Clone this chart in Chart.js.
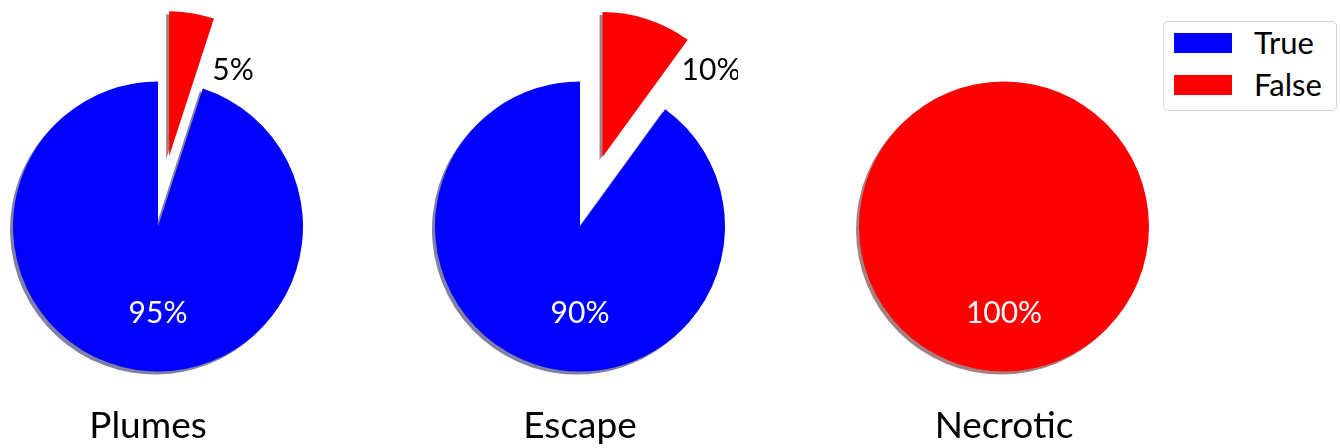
<!DOCTYPE html>
<html>
<head>
<meta charset="utf-8">
<script src="https://cdn.jsdelivr.net/npm/chart.js@4.4.0/dist/chart.umd.min.js"></script>
<style>
  html, body { margin: 0; padding: 0; background: #fff; }
  #wrap { position: relative; width: 1340px; height: 448px; overflow: hidden; font-family: Lato, sans-serif; }
  #wrap canvas { position: absolute; top: 0; }
  #legend { position: absolute; left: 1163px; top: 21px; width: 172px; height: 88px; border: 1px solid #d4d4d4; border-radius: 5px; background: #fff; }
  .sw { position: absolute; left: 10px; width: 58px; height: 20px; }
  .lbl { position: absolute; left: 90px; font-size: 31px; line-height: 31px; color: #000; white-space: nowrap; }
</style>
</head>
<body>
<div id="wrap">
  <canvas id="pie0" width="316" height="448" style="left:0px"></canvas>
  <canvas id="pie1" width="316" height="448" style="left:422px"></canvas>
  <canvas id="pie2" width="316" height="448" style="left:846px"></canvas>
  <div id="legend"></div>
</div>
<script>
// data
const groups = ['Plumes', 'Escape', 'Necrotic'];
const categories = ['True', 'False'];
const trueValues = [95, 90, 0];
const falseValues = [5, 10, 100];

const colors = ['#0000ff', '#ff0000'];
const shadowColors = ['rgb(128,128,166)', 'rgb(166,128,128)'];

// how far each slice is pulled out (px), per pie
const explodePx = [[0, 71], [0, 73], [0, 0]];
// where the outside % label goes relative to the pie centre
const outsideLabel = [[75, -147], [131, -147], [0, 0]];
const titleShift = [-10, 0, 0];

const pieExtras = {
    id: 'pieExtras',
    beforeDatasetsDraw(chart) {
        const ctx = chart.ctx;
        const o = chart.options.plugins.pieExtras;
        chart.getDatasetMeta(0).data.forEach(function (arc, i) {
            if (!arc.circumference) return;
            const mid = (arc.startAngle + arc.endAngle) / 2;
            ctx.save();
            ctx.translate(Math.cos(mid) * o.explode[i], Math.sin(mid) * o.explode[i]);
            ctx.shadowColor = shadowColors[i];
            ctx.shadowOffsetX = -3;
            ctx.shadowOffsetY = 3;
            ctx.shadowBlur = 0;
            arc.draw(ctx);
            ctx.restore();
        });
        // slices are drawn above, skip the default pass
        return false;
    },
    afterDraw(chart) {
        const ctx = chart.ctx;
        const o = chart.options.plugins.pieExtras;
        const data = chart.data.datasets[0].data;
        const total = data.reduce((a, b) => a + b, 0);
        const meta = chart.getDatasetMeta(0);
        const cx = meta.data[0].x, cy = meta.data[0].y;
        ctx.save();
        ctx.textAlign = 'center';
        ctx.textBaseline = 'alphabetic';
        ctx.font = '30px Lato';
        data.forEach(function (v, i) {
            if (!v) return;
            const pct = Math.round(v / total * 100) + '%';
            if (o.explode[i]) {
                ctx.fillStyle = '#000';
                ctx.fillText(pct, cx + o.outside[0], cy + o.outside[1]);
            } else {
                ctx.fillStyle = '#fff';
                ctx.fillText(pct, cx, cy + 96);
            }
        });
        ctx.fillStyle = '#000';
        ctx.font = '37px Lato';
        ctx.fillText(o.title, cx + o.titleShift, cy + 211.5);
        ctx.restore();
    }
};

groups.forEach(function (name, k) {
    const values = [trueValues[k], falseValues[k]];
    const total = values[0] + values[1];
    new Chart(document.getElementById('pie' + k), {
        type: 'pie',
        data: {
            labels: categories,
            datasets: [{
                data: values,
                backgroundColor: colors,
                borderWidth: 0
            }]
        },
        options: {
            responsive: false,
            animation: false,
            radius: 145,
            rotation: 360 * values[1] / total,
            layout: { padding: { top: 5 } },
            events: [],
            plugins: {
                legend: { display: false },
                tooltip: { enabled: false },
                pieExtras: {
                    explode: explodePx[k],
                    outside: outsideLabel[k],
                    title: name,
                    titleShift: titleShift[k]
                }
            }
        },
        plugins: [pieExtras]
    });
});

// legend box
const legend = document.getElementById('legend');
categories.forEach(function (c, i) {
    const sw = document.createElement('div');
    sw.className = 'sw';
    sw.style.top = (11 + i * 42) + 'px';
    sw.style.background = colors[i];
    legend.appendChild(sw);
    const t = document.createElement('div');
    t.className = 'lbl';
    t.style.top = (5 + i * 42) + 'px';
    t.textContent = c;
    legend.appendChild(t);
});
</script>
</body>
</html>
